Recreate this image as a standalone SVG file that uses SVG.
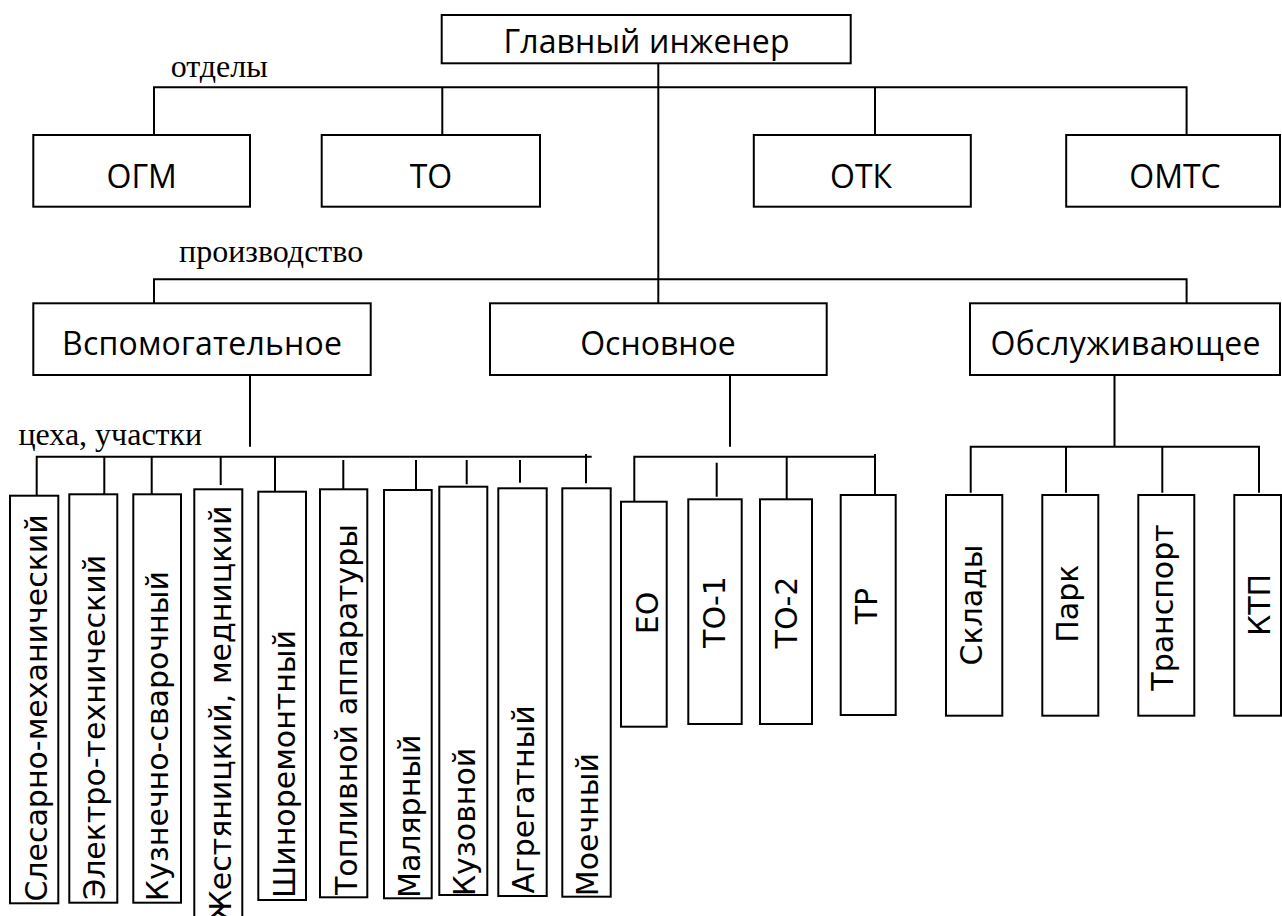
<svg xmlns="http://www.w3.org/2000/svg" width="1282" height="916" viewBox="0 0 1282 916">
<style>
.box{fill:#fff;stroke:#000;stroke-width:2}
.ln{stroke:#000;stroke-width:2;fill:none}
.t{font-family:"Open Sans","Noto Sans",sans-serif;font-size:32px;text-anchor:middle;fill:#000}
.lbl{font-family:"Liberation Serif",serif;font-size:32px;fill:#000}
.v{font-family:"DejaVu Sans",sans-serif;font-size:30px;fill:#000}
.m{text-anchor:middle}
</style>
<rect width="1282" height="916" fill="#fff"/>
<g id="connectors">
<path class="ln" d="M658.3 63.3V303.3"/>
<path class="ln" d="M154 135V87.3H1186.6V135M442.3 87.3V135M875 87.3V135"/>
<path class="ln" d="M154 303.3V279.3H1186.6V303.3"/>
<path class="ln" d="M250 375V446.7M730 375V446.7M1114.5 375V446.7"/>
<path class="ln" d="M36.7 495.7V456.7H591.7M104.3 456.7V494.3M151.7 456.7V496.7M220.7 456.7V485M275 456.7V491.7M343.3 460V489.3M416 460V490M466.7 460V484.3M520 460V482.7M586 454V483.3"/>
<path class="ln" d="M634.3 501.7V456.7H875M875 454V499.3M716.7 462.7V496.7M786.7 456.7V499.3"/>
<path class="ln" d="M970.7 492.7V446.7H1259V492.7M1066 446.7V492.7M1162.3 446.7V492.7"/>
</g>
<text class="lbl" x="170.7" y="77.3">отделы</text>
<text class="lbl" x="179" y="262.3">производство</text>
<text class="lbl" x="18.4" y="445">цеха, участки</text>
<g id="n-glavny"><rect class="box" x="441.7" y="15" width="409" height="48.3"/><text class="t" x="646.5" y="53.3" textLength="286">Главный инженер</text></g>
<g id="n-ogm"><rect class="box" x="33.3" y="135" width="216.7" height="71.7"/><text class="t" x="141.7" y="187.7">ОГМ</text></g>
<g id="n-to"><rect class="box" x="321.7" y="135" width="218.3" height="71.7"/><text class="t" x="431" y="187.7">ТО</text></g>
<g id="n-otk"><rect class="box" x="753.8" y="135" width="217" height="71.7"/><text class="t" x="861" y="187.7">ОТК</text></g>
<g id="n-omts"><rect class="box" x="1066.2" y="135" width="213.8" height="71.7"/><text class="t" x="1175" y="187.7">ОМТС</text></g>
<g id="n-vspom"><rect class="box" x="33.3" y="303.3" width="337.4" height="71.7"/><text class="t" x="202" y="355" textLength="280">Вспомогательное</text></g>
<g id="n-osn"><rect class="box" x="490" y="303.3" width="336.7" height="71.7"/><text class="t" x="658" y="355">Основное</text></g>
<g id="n-obsl"><rect class="box" x="970" y="303.3" width="310" height="71.7"/><text class="t" x="1125.5" y="355" textLength="270">Обслуживающее</text></g>
<g id="s1"><rect class="box" x="10" y="495.7" width="48.3" height="407.6"/><text class="v" transform="translate(46.7 901.6) rotate(-90)">Слесарно-механический</text></g>
<g id="s2"><rect class="box" x="69.3" y="494.3" width="48" height="408.4"/><text class="v" transform="translate(105 899.8) rotate(-90)">Электро-технический</text></g>
<g id="s3"><rect class="box" x="133.3" y="494.3" width="47.7" height="408.4"/><text class="v" transform="translate(168.3 901.2) rotate(-90)">Кузнечно-сварочный</text></g>
<g id="s4"><rect class="box" x="194.3" y="489.3" width="48" height="440"/><text class="v" text-anchor="end" transform="translate(231 505.6) rotate(-90)">Жестяницкий, медницкий</text></g>
<g id="s5"><rect class="box" x="258.3" y="491.7" width="47.7" height="408.3"/><text class="v" transform="translate(295 897.9) rotate(-90)">Шиноремонтный</text></g>
<g id="s6"><rect class="box" x="320" y="489.3" width="47.3" height="408"/><text class="v" transform="translate(356.7 895) rotate(-90)">Топливной аппаратуры</text></g>
<g id="s7"><rect class="box" x="384" y="490" width="47.7" height="408.3"/><text class="v" transform="translate(420 897.9) rotate(-90)">Малярный</text></g>
<g id="s8"><rect class="box" x="439.3" y="486.7" width="48" height="408.3"/><text class="v" transform="translate(475 896.2) rotate(-90)">Кузовной</text></g>
<g id="s9"><rect class="box" x="498.3" y="488.3" width="48.4" height="407.7"/><text class="v" transform="translate(534 893.5) rotate(-90)">Агрегатный</text></g>
<g id="s10"><rect class="box" x="562.3" y="488.3" width="48.4" height="408.4"/><text class="v" transform="translate(598.3 896.2) rotate(-90)">Моечный</text></g>
<g id="o1"><rect class="box" x="621" y="501.7" width="45.7" height="225"/><text class="v m" transform="translate(658.3 613) rotate(-90)">ЕО</text></g>
<g id="o2"><rect class="box" x="688.3" y="499.3" width="53.4" height="224.7"/><text class="v m" transform="translate(725 612) rotate(-90)">ТО-1</text></g>
<g id="o3"><rect class="box" x="760" y="499.3" width="52" height="224.7"/><text class="v m" transform="translate(796.7 612.5) rotate(-90)">ТО-2</text></g>
<g id="o4"><rect class="box" x="840.7" y="495" width="55" height="220"/><text class="v m" transform="translate(876.7 606) rotate(-90)">ТР</text></g>
<g id="b1"><rect class="box" x="946" y="495" width="56.3" height="220.7"/><text class="v m" transform="translate(981.7 605) rotate(-90)">Склады</text></g>
<g id="b2"><rect class="box" x="1042.3" y="495" width="56" height="220.7"/><text class="v m" transform="translate(1078.3 603.7) rotate(-90)">Парк</text></g>
<g id="b3"><rect class="box" x="1138.3" y="495" width="56" height="220.7"/><text class="v m" transform="translate(1173.3 607.5) rotate(-90)">Транспорт</text></g>
<g id="b4"><rect class="box" x="1234.3" y="495" width="46.7" height="220.7"/><text class="v m" transform="translate(1270 605) rotate(-90)">КТП</text></g>
</svg>
